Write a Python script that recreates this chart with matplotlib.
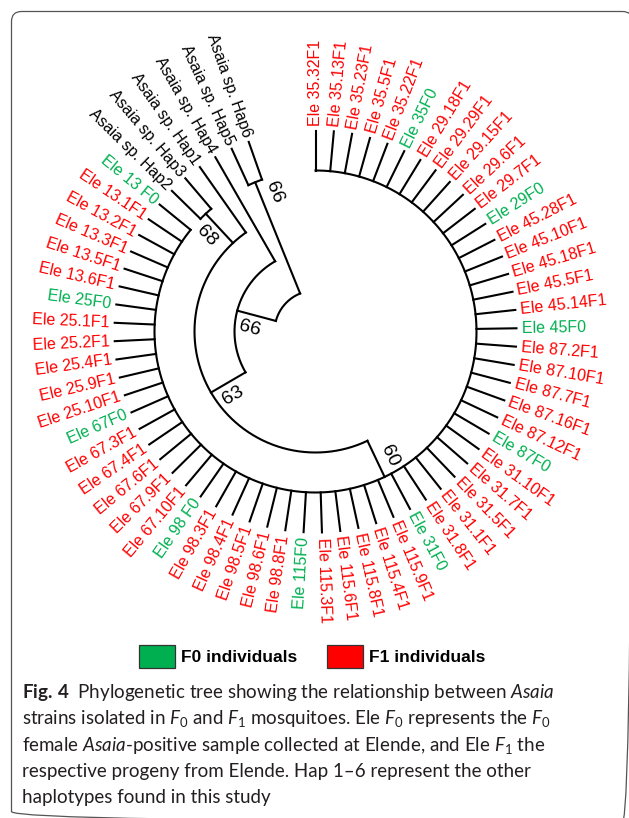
import matplotlib
matplotlib.use('Agg')
import matplotlib.pyplot as plt
from matplotlib.patches import FancyBboxPatch, Rectangle
from matplotlib import font_manager
import numpy as np


def pick_family(cands):
    names = {f.name for f in font_manager.fontManager.ttflist}
    for c in cands:
        if c in names:
            return c
    return 'DejaVu Sans'


# tip labels, clockwise starting at 12 o'clock
leaf_names = [
    'Ele 35.32F1', 'Ele 35.13F1', 'Ele 35.23F1', 'Ele 35.5F1', 'Ele 35.22F1', 'Ele 35F0',
    'Ele 29.18F1', 'Ele 29.29F1', 'Ele 29.15F1', 'Ele 29.6F1', 'Ele 29.7F1', 'Ele 29F0',
    'Ele 45.28F1', 'Ele 45.10F1', 'Ele 45.18F1', 'Ele 45.5F1', 'Ele 45.14F1', 'Ele 45F0',
    'Ele 87.2F1', 'Ele 87.10F1', 'Ele 87.7F1', 'Ele 87.16F1', 'Ele 87.12F1', 'Ele 87F0',
    'Ele 31.10F1', 'Ele 31.7F1', 'Ele 31.5F1', 'Ele 31.1F1', 'Ele 31.8F1', 'Ele 31F0',
    'Ele 115.9F1', 'Ele 115.4F1', 'Ele 115.8F1', 'Ele 115.6F1', 'Ele 115.3F1', 'Ele 115F0',
    'Ele 98.8F1', 'Ele 98.6F1', 'Ele 98.5F1', 'Ele 98.4F1', 'Ele 98.3F1', 'Ele 98 F0',
    'Ele 67.10F1', 'Ele 67.9F1', 'Ele 67.6F1', 'Ele 67.4F1', 'Ele 67.3F1', 'Ele 67F0',
    'Ele 25.10F1', 'Ele 25.9F1', 'Ele 25.4F1', 'Ele 25.2F1', 'Ele 25.1F1', 'Ele 25F0',
    'Ele 13.6F1', 'Ele 13.5F1', 'Ele 13.3F1', 'Ele 13.2F1', 'Ele 13.1F1', 'Ele 13 F0',
    'Asaia sp. Hap2', 'Asaia sp. Hap3', 'Asaia sp. Hap1', 'Asaia sp. Hap4',
    'Asaia sp. Hap5', 'Asaia sp. Hap6',
]

# tree topology: children are tip indices or other internal nodes
node_children = {
    'root': ['n66a', 'n66b'],
    'n66a': ['n63', 63],
    'n63': ['ele', 'n68', 62],
    'ele': list(range(60)),
    'n68': [60, 61],
    'n66b': [64, 65],
}
# bootstrap support
node_support = {'ele': 60, 'n68': 68, 'n63': 63, 'n66a': 66, 'n66b': 66}
support_side = {'ele': 1, 'n68': 1, 'n63': 1, 'n66a': 1, 'n66b': -1}

legend_labels = ['F0 individuals', 'F1 individuals']
legend_colors = ['#00b050', '#ff0000']

caption_lines = [
    r'$\mathbf{Fig.}\,\mathbf{4}$  Phylogenetic tree showing the relationship between $\mathit{Asaia}$',
    r'strains isolated in $\mathit{F}_0$ and $\mathit{F}_1$ mosquitoes. Ele $\mathit{F}_0$ represents the $\mathit{F}_0$',
    r'female $\mathit{Asaia}$-positive sample collected at Elende, and Ele $\mathit{F}_1$ the',
    'respective progeny from Elende. Hap 1–6 represent the other',
    'haplotypes found in this study',
]

tree_font = pick_family(['Liberation Sans', 'Arial', 'DejaVu Sans'])
cap_font = pick_family(['Lato', 'Open Sans', 'Noto Sans', 'DejaVu Sans'])
plt.rcParams['mathtext.fontset'] = 'custom'
plt.rcParams['mathtext.rm'] = cap_font
plt.rcParams['mathtext.it'] = cap_font + ':italic'
plt.rcParams['mathtext.bf'] = cap_font + ':bold'

W, H = 629, 818
cx, cy = 315.5, 331.5      # tree centre (px from top-left)
R = 300                    # polar axes radius in px
step = 5.24                # degrees between neighbouring tips
r_tip = 201
r_step = 40
lw = 1.5

fig = plt.figure(figsize=(W / 100, H / 100), dpi=100)
ax0 = fig.add_axes([0, 0, 1, 1])
ax0.set_xlim(0, W)
ax0.set_ylim(H, 0)
ax0.axis('off')

ax = fig.add_axes([(cx - R) / W, (H - cy - R) / H, 2 * R / W, 2 * R / H], projection='polar')
ax.set_ylim(0, R)
ax.axis('off')
ax.patch.set_visible(False)

# layout: clockwise position and height above tips
pos, height = {}, {}


def layout(node):
    if isinstance(node, int):
        pos[node] = node
        height[node] = 0
        return
    kids = node_children[node]
    for k in kids:
        layout(k)
    ps = [pos[k] for k in kids]
    pos[node] = (min(ps) + max(ps)) / 2
    height[node] = 1 + max(height[k] for k in kids)


layout('root')


def ang(p):
    return 90 - p * step


def radius(n):
    return r_tip - r_step * height[n]


def readable(a):
    a = (a + 180) % 360 - 180
    if -90 <= a <= 90:
        return a, 'left'
    return (a - 180 if a > 0 else a + 180), 'right'


for node, kids in node_children.items():
    r = radius(node)
    ps = [pos[k] for k in kids]
    t = np.radians(ang(np.linspace(min(ps), max(ps), 200)))
    ax.plot(t, np.full_like(t, r), color='black', lw=lw, solid_capstyle='projecting')
    for k in kids:
        tk = np.radians(ang(pos[k]))
        ax.plot([tk, tk], [r, radius(k)], color='black', lw=lw, solid_capstyle='projecting')

for i, name in enumerate(leaf_names):
    a = ang(i)
    rot, ha = readable(a)
    if name.endswith('F0'):
        col = legend_colors[0]
    elif name.endswith('F1'):
        col = legend_colors[1]
    else:
        col = 'black'
    ax.text(np.radians(a), r_tip + 5, name, rotation=rot, rotation_mode='anchor',
            ha=ha, va='center', fontsize=11.5, color=col, family=tree_font)

for node, val in node_support.items():
    a = ang(pos[node])
    r = radius(node) - 17
    d = 14 * support_side[node]
    rr = np.hypot(r, d)
    aa = a + np.degrees(np.arctan2(d, r))
    rot, _ = readable(a)
    ax.text(np.radians(aa), rr, str(val), rotation=rot, rotation_mode='anchor',
            ha='center', va='center', fontsize=14, family=tree_font)

# legend
box_x = [139, 327]
for bx, lab, col in zip(box_x, legend_labels, legend_colors):
    ax0.add_patch(Rectangle((bx, 644.5), 36, 23, facecolor=col, edgecolor='#333333', lw=0.9))
    ax0.text(bx + 42, 657, lab, ha='left', va='center', fontsize=12.5,
             fontweight='bold', family=tree_font)

# caption
for k, line in enumerate(caption_lines):
    ax0.text(22, 698 + 26.3 * k, line, ha='left', va='baseline', fontsize=13.5,
             family=cap_font, color='#231f20')

ax0.add_patch(FancyBboxPatch((11.5, 11.5), 621, 810, boxstyle='round,pad=0,rounding_size=10',
                             fill=False, edgecolor='#555555', lw=0.9, clip_on=False))

fig.savefig('out.png', dpi=100)
